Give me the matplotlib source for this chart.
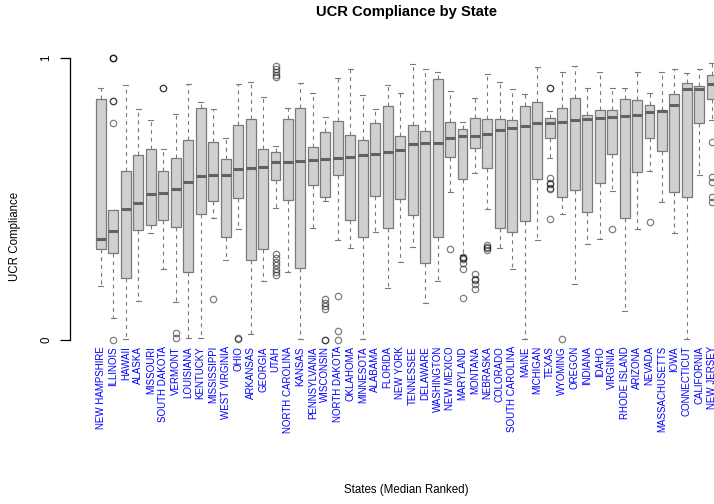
import matplotlib
matplotlib.use("Agg")
import matplotlib.pyplot as plt

plt.rcParams['font.family'] = ['Liberation Sans', 'DejaVu Sans']

states = ["NEW HAMPSHIRE", "ILLINOIS", "HAWAII", "ALASKA", "MISSOURI", "SOUTH DAKOTA",
          "VERMONT", "LOUISIANA", "KENTUCKY", "MISSISSIPPI", "WEST VIRGINIA", "OHIO",
          "ARKANSAS", "GEORGIA", "UTAH", "NORTH CAROLINA", "KANSAS", "PENNSYLVANIA",
          "WISCONSIN", "NORTH DAKOTA", "OKLAHOMA", "MINNESOTA", "ALABAMA", "FLORIDA",
          "NEW YORK", "TENNESSEE", "DELAWARE", "WASHINGTON", "NEW MEXICO", "MARYLAND",
          "MONTANA", "NEBRASKA", "COLORADO", "SOUTH CAROLINA", "MAINE", "MICHIGAN",
          "TEXAS", "WYOMING", "OREGON", "INDIANA", "IDAHO", "VIRGINIA", "RHODE ISLAND",
          "ARIZONA", "NEVADA", "MASSACHUSETTS", "IOWA", "CONNECTICUT", "CALIFORNIA",
          "NEW JERSEY"]

whislo = [0.193, 0.079, 0.005, 0.138, 0.381, 0.251, 0.135, 0.008, 0.008, 0.434,
          0.284, 0.394, 0.021, 0.210, 0.469, 0.240, 0.002, 0.398, 0.494, 0.355,
          0.325, 0.002, 0.384, 0.186, 0.275, 0.330, 0.131, 0.210, 0.524, 0.300,
          0.591, 0.465, 0.327, 0.251, 0.002, 0.353, 0.645, 0.446, 0.197, 0.340,
          0.358, 0.527, 0.104, 0.394, 0.598, 0.488, 0.379, 0.002, 0.585, 0.779]
q1 = [0.322, 0.307, 0.220, 0.389, 0.407, 0.424, 0.400, 0.242, 0.448, 0.493,
      0.364, 0.504, 0.283, 0.324, 0.566, 0.495, 0.255, 0.548, 0.506, 0.584,
      0.424, 0.365, 0.511, 0.396, 0.500, 0.443, 0.273, 0.364, 0.648, 0.572,
      0.680, 0.609, 0.396, 0.382, 0.423, 0.572, 0.715, 0.507, 0.533, 0.454,
      0.556, 0.660, 0.431, 0.596, 0.716, 0.671, 0.526, 0.506, 0.770, 0.854]
med = [0.359, 0.385, 0.465, 0.485, 0.517, 0.521, 0.535, 0.559, 0.583, 0.585,
       0.585, 0.607, 0.610, 0.612, 0.630, 0.631, 0.634, 0.637, 0.642, 0.647,
       0.650, 0.655, 0.658, 0.667, 0.673, 0.696, 0.699, 0.700, 0.716, 0.722,
       0.725, 0.732, 0.745, 0.752, 0.759, 0.768, 0.768, 0.774, 0.779, 0.784,
       0.787, 0.791, 0.795, 0.799, 0.807, 0.813, 0.834, 0.890, 0.890, 0.909]
q3 = [0.854, 0.462, 0.598, 0.655, 0.676, 0.598, 0.645, 0.710, 0.823, 0.701,
      0.642, 0.761, 0.783, 0.677, 0.668, 0.783, 0.824, 0.684, 0.736, 0.777,
      0.727, 0.710, 0.770, 0.829, 0.723, 0.761, 0.742, 0.927, 0.772, 0.747,
      0.786, 0.783, 0.783, 0.781, 0.831, 0.843, 0.786, 0.824, 0.859, 0.799,
      0.814, 0.817, 0.856, 0.852, 0.833, 0.817, 0.872, 0.912, 0.902, 0.940]
whishi = [0.895, 0.462, 0.904, 0.819, 0.779, 0.678, 0.800, 0.909, 0.845, 0.818,
          0.717, 0.907, 0.914, 0.863, 0.688, 0.824, 0.910, 0.875, 0.790, 0.930,
          0.960, 0.870, 0.819, 0.905, 0.875, 0.979, 0.960, 0.949, 0.883, 0.772,
          0.857, 0.944, 0.916, 0.890, 0.871, 0.968, 0.813, 0.949, 0.971, 0.892,
          0.949, 0.895, 0.894, 0.949, 0.875, 0.949, 0.962, 0.946, 0.961, 0.981]
outliers = {
    "ILLINOIS": [1.0, 1.0, 1.0, 0.848, 0.846, 0.771, 0.0],
    "SOUTH DAKOTA": [0.895, 0.893],
    "VERMONT": [0.024, 0.006],
    "MISSISSIPPI": [0.144],
    "OHIO": [0.006, 0.004],
    "UTAH": [0.972, 0.960, 0.950, 0.941, 0.932, 0.305, 0.290, 0.278, 0.266,
             0.252, 0.240, 0.230],
    "WISCONSIN": [0.144, 0.132, 0.122, 0.111, 0.0, 0.0],
    "NORTH DAKOTA": [0.157, 0.032, 0.0],
    "NEW MEXICO": [0.322],
    "MARYLAND": [0.296, 0.292, 0.287, 0.274, 0.252, 0.148],
    "MONTANA": [0.234, 0.215, 0.213, 0.197, 0.180],
    "NEBRASKA": [0.337, 0.330, 0.325, 0.320],
    "TEXAS": [0.894, 0.892, 0.573, 0.556, 0.553, 0.538, 0.535, 0.429],
    "WYOMING": [0.002],
    "VIRGINIA": [0.395],
    "NEVADA": [0.418],
    "NEW JERSEY": [0.703, 0.579, 0.561, 0.508, 0.490],
}

title = "UCR Compliance by State"
xlabel = "States (Median Ranked)"
ylabel = "UCR Compliance"

W, H = 714, 504
fig = plt.figure(figsize=(W / 100, H / 100), dpi=100)
# plot region in pixels
left_px, right_px = 69.8, 743.0
top_px, bot_px = 43.9, 424.6
ax = fig.add_axes([left_px / W, 1 - bot_px / H, (right_px - left_px) / W,
                   (bot_px - top_px) / H])
ax.set_facecolor('none')
fig.patch.set_facecolor('white')

positions = list(range(1, len(states) + 1))
stats = []
for i, s in enumerate(states):
    stats.append(dict(label=s, med=med[i], q1=q1[i], q3=q3[i],
                      whislo=whislo[i], whishi=whishi[i],
                      fliers=outliers.get(s, [])))

edge = '#7a7a7a'
ax.bxp(stats, positions=positions, widths=0.8, patch_artist=True,
       capwidths=0.4,
       boxprops=dict(facecolor='#d0d0d0', edgecolor=edge, linewidth=0.9),
       medianprops=dict(color='#626262', linewidth=2.2, solid_capstyle='butt'),
       whiskerprops=dict(color=edge, linewidth=0.8, linestyle=(0, (3.5, 3.5))),
       capprops=dict(color=edge, linewidth=0.8),
       flierprops=dict(marker='o', markerfacecolor='none',
                       markeredgecolor=(0, 0, 0, 0.5), markersize=4.6,
                       markeredgewidth=0.9, linestyle='none'))

ax.set_xlim(-1.5, 52.5)
ax.set_ylim(-0.30, 1.05)

for sp in ['top', 'right', 'bottom']:
    ax.spines[sp].set_visible(False)
ax.spines['left'].set_bounds(0, 1)
ax.spines['left'].set_linewidth(0.9)
ax.set_xticks([])
ax.set_yticks([0, 1])
ax.set_yticklabels(['0', '1'], rotation=90, va='center', fontsize=8.3)
ax.tick_params(axis='y', length=7.2, width=0.9, pad=5.5)

for p, s in zip(positions, states):
    ax.text(p, -0.022, s, rotation=90, ha='center', va='top', color='blue',
            fontsize=7.0)

ax.set_ylabel(ylabel, fontsize=8.3)
ax.yaxis.set_label_coords(-0.0807, 0.494)
ax.yaxis.label.set_va('center')
ax.set_xlabel(xlabel, fontsize=8.3)
ax.xaxis.set_label_coords(0.5, (bot_px - 490) / (bot_px - top_px))
ax.xaxis.label.set_va('center')

fig.text((left_px + right_px) / 2 / W, 1 - 12 / H, title, ha='center',
         va='center', fontsize=10.6, fontweight='bold')

fig.savefig('out.png', dpi=100)
